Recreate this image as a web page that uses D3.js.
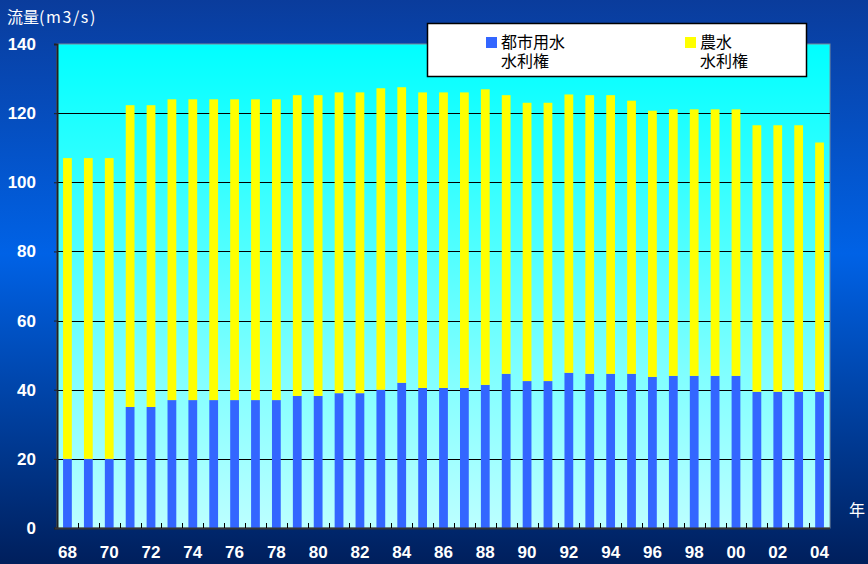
<!DOCTYPE html>
<html>
<head>
<meta charset="utf-8">
<script src="https://cdn.jsdelivr.net/npm/d3@7"></script>
<style>
  body { margin: 0; background: #002060; }
  svg text { font-family: "Liberation Sans", Arial, sans-serif; }
  .jp { font-family: "Noto Sans CJK JP", sans-serif; }
</style>
</head>
<body>
<svg id="chart" width="868" height="564"></svg>
<script>
  const years = ['68','69','70','71','72','73','74','75','76','77','78','79','80','81','82','83','84','85','86',
    '87','88','89','90','91','92','93','94','95','96','97','98','99','00','01','02','03','04'];
  // urban water rights (m3/s)
  const urban = [20,20,20,35,35,37,37,37,37,37,37,38.2,38.2,39,39,40,42,40.5,40.5,
    40.5,41.4,44.6,42.5,42.5,44.9,44.6,44.6,44.6,43.7,44,44,44,44,39.4,39.4,39.4,39.4];
  // total (urban + agricultural)
  const total = [107,107,107,122.3,122.3,124,124,124,124,124,124,125.2,125.2,126,126,127.2,127.5,126,126,
    126,126.9,125.2,123,123,125.4,125.2,125.2,123.6,120.7,121.1,121.1,121.1,121.1,116.5,116.5,116.5,111.5];
  const yTicks = [0,20,40,60,80,100,120,140];
  const xTickLabels = ['68','70','72','74','76','78','80','82','84','86','88','90','92','94','96','98','00','02','04'];

  const data = years.map((y, i) => ({ year: y, urban: urban[i], agri: total[i] - urban[i] }));

  const svg = d3.select('#chart');
  const width = +svg.attr('width');
  const height = +svg.attr('height');
  const margin = { top: 44, right: 38, bottom: 36, left: 57 };
  const innerWidth = width - margin.left - margin.right;
  const innerHeight = height - margin.top - margin.bottom;

  const defs = svg.append('defs');
  const bg = defs.append('linearGradient').attr('id', 'bg').attr('x1', 0).attr('y1', 0).attr('x2', 0).attr('y2', 1);
  bg.append('stop').attr('offset', '0%').attr('stop-color', '#0a3c9c');
  bg.append('stop').attr('offset', '45%').attr('stop-color', '#0062e6');
  bg.append('stop').attr('offset', '100%').attr('stop-color', '#001f5c');
  const pg = defs.append('linearGradient').attr('id', 'pg').attr('x1', 0).attr('y1', 0).attr('x2', 0).attr('y2', 1);
  pg.append('stop').attr('offset', '0%').attr('stop-color', '#00ffff');
  pg.append('stop').attr('offset', '100%').attr('stop-color', '#bcffff');

  svg.append('rect').attr('width', width).attr('height', height).attr('fill', 'url(#bg)');

  const xScale = d3.scaleBand()
    .domain(years)
    .range([0, innerWidth])
    .paddingInner(0.58)
    .paddingOuter(0.29);

  const yScale = d3.scaleLinear()
    .domain([0, 140])
    .range([innerHeight, 0]);

  const g = svg.append('g')
    .attr('transform', `translate(${margin.left},${margin.top})`);

  g.append('rect')
    .attr('width', innerWidth)
    .attr('height', innerHeight)
    .attr('fill', 'url(#pg)')
    .attr('stroke', '#7a8a9a')
    .attr('stroke-width', 1);

  // gridlines
  g.selectAll('.grid').data(yTicks.slice(1, -1))
    .enter().append('line')
      .attr('x1', 0)
      .attr('x2', innerWidth)
      .attr('y1', d => Math.round(yScale(d)) + 0.5)
      .attr('y2', d => Math.round(yScale(d)) + 0.5)
      .attr('stroke', '#000')
      .attr('stroke-width', 1);

  // stacked bars
  const stack = d3.stack().keys(['urban', 'agri']);
  const series = stack(data);
  const colors = { urban: '#3366ff', agri: '#ffff00' };

  g.selectAll('.series').data(series)
    .enter().append('g')
      .attr('fill', s => colors[s.key])
    .selectAll('rect').data(s => s)
    .enter().append('rect')
      .attr('x', d => xScale(d.data.year))
      .attr('width', xScale.bandwidth())
      .attr('y', d => yScale(d[1]))
      .attr('height', d => yScale(d[0]) - yScale(d[1]));

  // y axis
  const yAxisG = g.append('g')
    .call(d3.axisLeft(yScale).tickValues(yTicks).tickSize(3).tickPadding(18));
  yAxisG.select('.domain').attr('stroke', '#222').attr('stroke-width', 2);
  yAxisG.selectAll('.tick line').attr('stroke', '#222');
  yAxisG.selectAll('text')
    .attr('fill', '#fff')
    .attr('font-size', 17)
    .attr('font-weight', 'bold');

  // x axis: ticks at band boundaries pointing up
  const step = xScale.step();
  const xAxisG = g.append('g')
    .attr('transform', `translate(0,${innerHeight})`);
  xAxisG.append('line')
    .attr('x1', -2).attr('x2', innerWidth)
    .attr('y1', 0.5).attr('y2', 0.5)
    .attr('stroke', '#333').attr('stroke-width', 2);
  xAxisG.selectAll('.xt').data(years.slice(1))
    .enter().append('line')
      .attr('x1', d => Math.round(xScale(d) - step * 0.29) + 0.5)
      .attr('x2', d => Math.round(xScale(d) - step * 0.29) + 0.5)
      .attr('y1', 0).attr('y2', -5)
      .attr('stroke', '#000');
  xAxisG.selectAll('.xl').data(xTickLabels)
    .enter().append('text')
      .attr('x', d => xScale(d) + xScale.bandwidth() / 2)
      .attr('y', 30)
      .attr('text-anchor', 'middle')
      .attr('fill', '#fff')
      .attr('font-size', 17)
      .attr('font-weight', 'bold')
      .text(d => d);

  svg.append('text')
    .attr('class', 'jp')
    .attr('x', 849).attr('y', 516)
    .attr('fill', '#fff')
    .attr('font-size', 16)
    .text('年');

  const title = svg.append('text')
    .attr('class', 'jp')
    .attr('x', 7).attr('y', 23)
    .attr('fill', '#fff')
    .attr('font-size', 16);
  title.append('tspan').text('流量');
  title.append('tspan').attr('letter-spacing', 1.6).text('(m3/s)');

  // legend
  const legend = svg.append('g');
  legend.append('rect')
    .attr('x', 427.5).attr('y', 23.5)
    .attr('width', 379).attr('height', 53)
    .attr('fill', '#fff')
    .attr('stroke', '#000')
    .attr('stroke-width', 1.5);
  const legendItems = [
    { key: 'urban', x: 486, lines: ['都市用水', '水利権'] },
    { key: 'agri', x: 685, lines: ['農水', '水利権'] }
  ];
  const li = legend.selectAll('.li').data(legendItems)
    .enter().append('g')
      .attr('transform', d => `translate(${d.x},0)`);
  li.append('rect')
    .attr('x', 0).attr('y', 37)
    .attr('width', 11).attr('height', 11)
    .attr('fill', d => colors[d.key]);
  li.append('text')
    .attr('class', 'jp')
    .attr('x', 15).attr('y', 48)
    .attr('font-size', 16)
    .attr('fill', '#000')
    .text(d => d.lines[0]);
  li.append('text')
    .attr('class', 'jp')
    .attr('x', 15).attr('y', 67)
    .attr('font-size', 16)
    .attr('fill', '#000')
    .text(d => d.lines[1]);
</script>
</body>
</html>
